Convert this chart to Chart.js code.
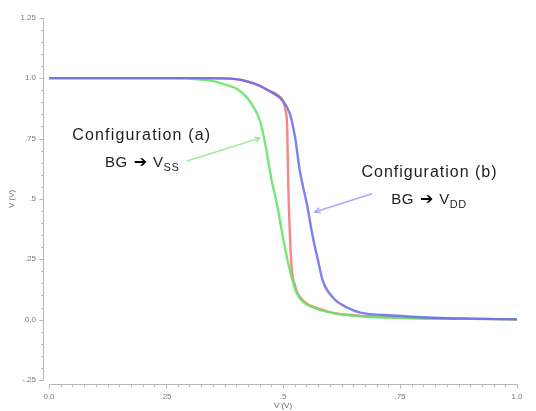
<!DOCTYPE html>
<html>
<head>
<meta charset="utf-8">
<script src="https://cdn.jsdelivr.net/npm/chart.js@4.4.1/dist/chart.umd.min.js"></script>
<style>
  html, body { margin: 0; padding: 0; background: #ffffff; }
  #wrap { width: 536px; height: 411px; position: relative; }
</style>
</head>
<body>
<div id="wrap"><canvas id="c" width="536" height="411"></canvas></div>
<script>
// ---- data ----
const yTickValues = [-0.25, 0, 0.25, 0.5, 0.75, 1.0, 1.25];
const yTickLabels = ["-.25", "0.0", ".25", ".5", ".75", "1.0", "1.25"];
const xTickValues = [0, 0.25, 0.5, 0.75, 1.0];
const xTickLabels = ["0.0", ".25", ".5", ".75", "1.0"];

const blueX = [0, 0.30, 0.387, 0.436, 0.472, 0.500, 0.515, 0.526, 0.536, 0.551, 0.564, 0.575, 0.585, 0.607, 0.637, 0.665, 0.735, 0.821, 0.90, 1.0];
const blueY = [1.0, 1.0, 0.998, 0.979, 0.946, 0.905, 0.851, 0.752, 0.616, 0.479, 0.339, 0.244, 0.161, 0.091, 0.050, 0.029, 0.017, 0.008, 0.004, 0.001];

const redX = [0, 0.30, 0.387, 0.436, 0.472, 0.487, 0.500, 0.506, 0.509, 0.511, 0.515, 0.519, 0.525, 0.530, 0.540, 0.551, 0.573, 0.607, 0.650, 0.750, 0.857, 1.0];
const redY = [1.0, 1.0, 0.998, 0.979, 0.946, 0.932, 0.905, 0.860, 0.793, 0.574, 0.339, 0.202, 0.145, 0.115, 0.085, 0.066, 0.048, 0.028, 0.018, 0.008, 0.004, 0.001];

const greenX = [0, 0.25, 0.30, 0.350, 0.387, 0.402, 0.429, 0.451, 0.462, 0.472, 0.476, 0.487, 0.500, 0.515, 0.530, 0.551, 0.573, 0.585, 0.607, 0.628, 0.679, 0.750, 0.857, 1.0];
const greenY = [1.0, 1.0, 0.998, 0.988, 0.967, 0.955, 0.905, 0.822, 0.727, 0.616, 0.574, 0.479, 0.339, 0.202, 0.107, 0.062, 0.045, 0.037, 0.027, 0.021, 0.012, 0.008, 0.004, 0.001];

const toPts = (xs, ys) => xs.map((x, i) => ({ x: x, y: ys[i] }));

// annotation anchors (data space)
const annotations = [
  { title: "Configuration (a)", sub: "SS", titleAt: [0.197, 0.762], subAt: [0.199, 0.649], width: 138,
    arrowFrom: [0.295, 0.657], arrowTo: [0.451, 0.752], arrowColor: "rgba(150,235,150,0.9)" },
  { title: "Configuration (b)", sub: "DD", titleAt: [0.812, 0.608], subAt: [0.812, 0.497], width: 135,
    arrowFrom: [0.690, 0.521], arrowTo: [0.568, 0.446], arrowColor: "rgba(160,160,245,0.9)" }
];

const axisPlugin = {
  id: 'axisPlugin',
  beforeDatasetsDraw(chart) {
    const ctx = chart.ctx, xs = chart.scales.x, ys = chart.scales.y;
    ctx.save();
    ctx.strokeStyle = '#b8b8b8';
    ctx.lineWidth = 1;
    const ax = chart.chartArea.left - 6 + 0.5;
    ctx.beginPath();
    ctx.moveTo(ax, ys.getPixelForValue(1.25));
    ctx.lineTo(ax, ys.getPixelForValue(-0.25));
    ctx.stroke();
    for (let i = 0; i <= 30; i++) {
      const v = -0.25 + i * 0.05;
      const py = Math.round(ys.getPixelForValue(v)) + 0.5;
      const major = (i % 5 === 0);
      ctx.beginPath();
      ctx.moveTo(ax, py);
      ctx.lineTo(ax - (major ? 4 : 2.5), py);
      ctx.stroke();
    }
    const ay = chart.chartArea.bottom + 4 + 0.5;
    ctx.beginPath();
    ctx.moveTo(xs.getPixelForValue(0), ay);
    ctx.lineTo(xs.getPixelForValue(1), ay);
    ctx.stroke();
    for (let i = 0; i <= 40; i++) {
      const v = i * 0.025;
      const px = Math.round(xs.getPixelForValue(v)) + 0.5;
      const major = (i % 10 === 0);
      ctx.beginPath();
      ctx.moveTo(px, ay);
      ctx.lineTo(px, ay + (major ? 4 : 2.5));
      ctx.stroke();
    }
    ctx.restore();
  },
  afterDraw(chart) {
    const ctx = chart.ctx, xs = chart.scales.x, ys = chart.scales.y;
    ctx.save();
    annotations.forEach(a => {
      const x1 = xs.getPixelForValue(a.arrowFrom[0]), y1 = ys.getPixelForValue(a.arrowFrom[1]);
      const x2 = xs.getPixelForValue(a.arrowTo[0]), y2 = ys.getPixelForValue(a.arrowTo[1]);
      ctx.strokeStyle = a.arrowColor;
      ctx.lineWidth = 1.5;
      ctx.beginPath();
      ctx.moveTo(x1, y1); ctx.lineTo(x2, y2); ctx.stroke();
      const ang = Math.atan2(y2 - y1, x2 - x1);
      const hl = 6;
      ctx.beginPath();
      ctx.moveTo(x2 - hl * Math.cos(ang - 0.45), y2 - hl * Math.sin(ang - 0.45));
      ctx.lineTo(x2, y2);
      ctx.lineTo(x2 - hl * Math.cos(ang + 0.45), y2 - hl * Math.sin(ang + 0.45));
      ctx.stroke();

      ctx.fillStyle = '#1e1e1e';
      ctx.textBaseline = 'middle';
      ctx.textAlign = 'left';
      ctx.font = '16px "Liberation Sans", Arial, sans-serif';
      ctx.letterSpacing = '0px';
      const w0 = ctx.measureText(a.title).width;
      const ls = (a.width - w0) / (a.title.length - 1);
      ctx.letterSpacing = ls + 'px';
      const tx = xs.getPixelForValue(a.titleAt[0]), ty = ys.getPixelForValue(a.titleAt[1]);
      ctx.fillText(a.title, tx - a.width / 2, ty);

      const mainFont = '15px "Liberation Sans", Arial, sans-serif';
      const arrFont = 'bold 16px "DejaVu Sans", sans-serif';
      const subFont = '11px "Liberation Sans", Arial, sans-serif';
      const sx = xs.getPixelForValue(a.subAt[0]), sy = ys.getPixelForValue(a.subAt[1]);
      ctx.letterSpacing = '0.5px';
      ctx.font = mainFont;
      const wBG = ctx.measureText('BG').width;
      const wV = ctx.measureText('V').width;
      ctx.letterSpacing = '0px';
      ctx.font = arrFont;
      const arrow = '\u2794';
      const wAr = ctx.measureText(arrow).width;
      ctx.font = subFont;
      ctx.letterSpacing = '0.5px';
      const wSub = ctx.measureText(a.sub).width;
      const gap = 6;
      const total = wBG + gap + wAr + gap + wV + wSub;
      let cx = sx - total / 2;
      ctx.font = mainFont;
      ctx.letterSpacing = '0.5px';
      ctx.fillText('BG', cx, sy); cx += wBG + gap;
      ctx.font = arrFont;
      ctx.letterSpacing = '0px';
      ctx.fillStyle = '#000';
      ctx.fillText(arrow, cx, sy); cx += wAr + gap;
      ctx.fillStyle = '#1e1e1e';
      ctx.font = mainFont;
      ctx.fillText('V', cx, sy); cx += wV;
      ctx.font = subFont;
      ctx.letterSpacing = '0.5px';
      ctx.fillText(a.sub, cx, sy + 5);
      ctx.letterSpacing = '0px';
    });
    ctx.restore();
  }
};

const tickFont = { family: '"Liberation Sans", Arial, sans-serif', size: 8 };

new Chart(document.getElementById('c'), {
  type: 'scatter',
  data: {
    datasets: [
      { label: 'b', data: toPts(blueX, blueY), borderColor: 'rgba(105,105,240,0.85)' },
      { label: 'a', data: toPts(greenX, greenY), borderColor: 'rgba(105,228,105,0.9)' },
      { label: 'r', data: toPts(redX, redY), borderColor: 'rgba(242,115,115,0.85)' }
    ].map(d => Object.assign(d, {
      showLine: true, pointRadius: 0, borderWidth: 2.4, cubicInterpolationMode: 'monotone', fill: false
    }))
  },
  options: {
    responsive: false,
    animation: false,
    devicePixelRatio: 1,
    layout: { padding: { left: 7, right: 19, top: 17, bottom: 0 } },
    plugins: { legend: { display: false }, tooltip: { enabled: false } },
    scales: {
      x: {
        type: 'linear', min: 0, max: 1,
        grid: { display: false, drawTicks: false },
        border: { display: false },
        afterBuildTicks: s => { s.ticks = xTickValues.map(v => ({ value: v })); },
        afterFit: s => { s.height = 31; },
        ticks: {
          font: tickFont, color: '#7a7a7a', padding: 12, maxRotation: 0, autoSkip: false,
          callback: (v) => xTickLabels[xTickValues.indexOf(v)]
        },
        title: { display: true, text: 'V (V)', font: tickFont, color: '#6a6a6a', padding: { top: 0, bottom: 0 } }
      },
      y: {
        type: 'linear', min: -0.25, max: 1.25,
        grid: { display: false, drawTicks: false },
        border: { display: false },
        afterBuildTicks: s => { s.ticks = yTickValues.map(v => ({ value: v })); },
        afterFit: s => { s.width = 42; },
        ticks: {
          font: tickFont, color: '#7a7a7a', padding: 13, autoSkip: false,
          callback: (v) => yTickLabels[yTickValues.indexOf(v)]
        },
        title: { display: true, text: 'V (V)', font: tickFont, color: '#6a6a6a', padding: { top: 0, bottom: 0 } }
      }
    }
  },
  plugins: [axisPlugin]
});
</script>
</body>
</html>
